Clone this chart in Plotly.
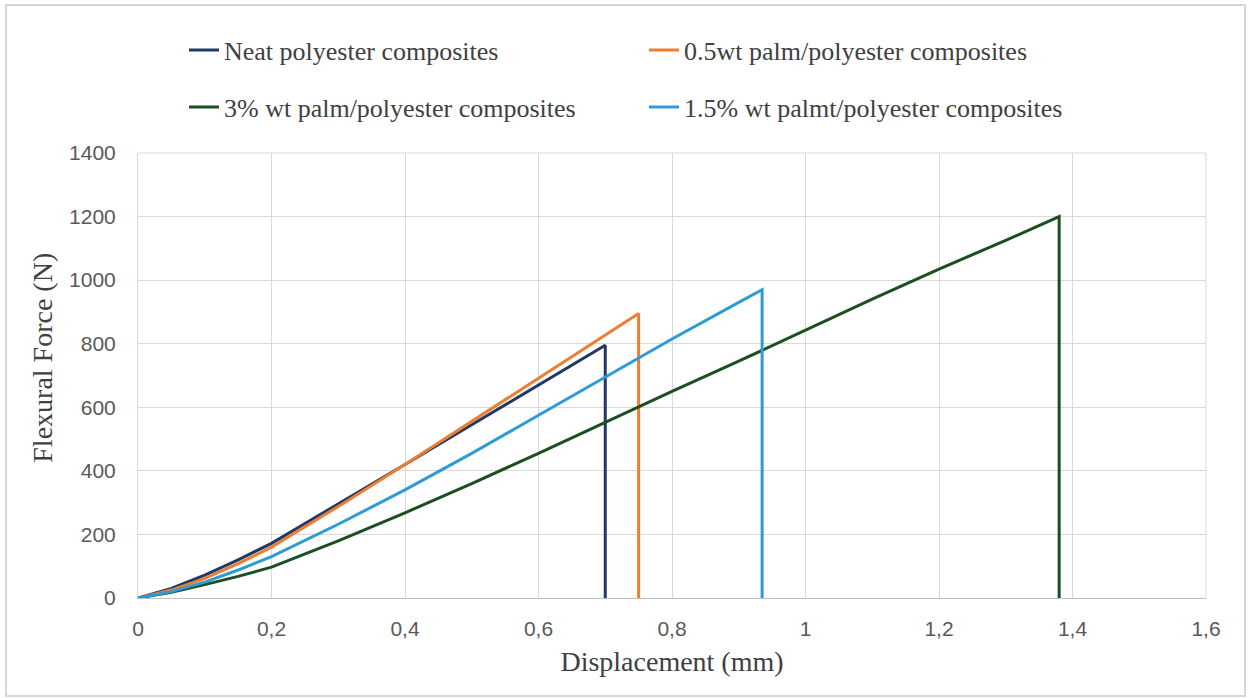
import plotly.graph_objects as go

# displacement (mm) / flexural force (N)
neat_x = [0, 0.05, 0.1, 0.15, 0.2, 0.3, 0.4, 0.5, 0.6, 0.7, 0.7]
neat_y = [0, 30, 72, 120, 172, 295, 420, 545, 670, 795, 0]

half_x = [0, 0.05, 0.1, 0.15, 0.2, 0.3, 0.4, 0.5, 0.6, 0.7, 0.75, 0.75]
half_y = [0, 25, 62, 108, 160, 288, 420, 556, 692, 828, 895, 0]

three_x = [0, 0.05, 0.1, 0.15, 0.2, 0.3, 0.4, 0.5, 0.6, 0.7, 0.8, 0.9, 1.0, 1.1, 1.2, 1.3, 1.38, 1.38]
three_y = [0, 18, 42, 68, 97, 180, 268, 360, 455, 553, 650, 745, 843, 940, 1035, 1125, 1200, 0]

onehalf_x = [0, 0.05, 0.1, 0.15, 0.2, 0.3, 0.4, 0.5, 0.6, 0.7, 0.8, 0.9, 0.935, 0.935]
onehalf_y = [0, 20, 50, 88, 130, 232, 340, 455, 575, 695, 815, 930, 970, 0]

names = ["Neat polyester composites", "0.5wt palm/polyester composites",
         "3% wt palm/polyester composites", "1.5% wt palmt/polyester composites"]
colors = ["#1F3864", "#ED7D31", "#1B4F1F", "#2E9BD6"]

W, H = 1251, 698
serif = "Liberation Serif, Times New Roman, serif"
sans = "Liberation Sans, Arial, sans-serif"

fig = go.Figure()
series = [(neat_x, neat_y), (half_x, half_y), (three_x, three_y), (onehalf_x, onehalf_y)]
legends = ["legend", "legend2", "legend3", "legend4"]
for (xs, ys), name, col, lg in zip(series, names, colors, legends):
    fig.add_trace(go.Scatter(x=xs, y=ys, mode="lines", name=name, legend=lg,
                             line=dict(color=col, width=3)))

def leg(px, py):
    return dict(x=px / W, y=1 - py / H, xref="container", yref="container",
                xanchor="left", yanchor="middle", bgcolor="rgba(0,0,0,0)",
                font=dict(family=serif, size=26, color="#404040"))

gridc = "#D9D9D9"
fig.update_layout(
    width=W, height=H,
    margin=dict(l=138, r=45, t=153, b=100, autoexpand=False),
    paper_bgcolor="white", plot_bgcolor="white",
    separators=",.",
    showlegend=True,
    legend=leg(184, 50), legend2=leg(644, 50),
    legend3=leg(184, 107), legend4=leg(644, 107),
    xaxis=dict(range=[0, 1.6], dtick=0.2, tick0=0, showgrid=True, gridcolor=gridc,
               gridwidth=1, zeroline=False, showline=True, linecolor="#BFBFBF",
               ticks="", tickangle=0, ticklabelstandoff=12,
               tickfont=dict(family=sans, size=21, color="#595959"),
               title=dict(text="Displacement (mm)", standoff=12,
                          font=dict(family=serif, size=28, color="#404040"))),
    yaxis=dict(range=[0, 1400], dtick=200, tick0=0, showgrid=True, gridcolor=gridc,
               gridwidth=1, zeroline=False, showline=True, linecolor=gridc,
               ticks="", ticklabelstandoff=17,
               tickfont=dict(family=sans, size=21, color="#595959")),
    annotations=[
        dict(text="Flexural Force (N)", textangle=-90, showarrow=False,
             xref="paper", yref="paper", x=(43 - 138) / 1068, y=0.54,
             xanchor="center", yanchor="middle",
             font=dict(family=serif, size=28, color="#404040")),
    ],
    shapes=[
        dict(type="line", xref="paper", yref="paper", x0=1, x1=1, y0=0, y1=1,
             line=dict(color=gridc, width=1)),
        dict(type="line", xref="paper", yref="paper", x0=0, x1=1, y0=1, y1=1,
             line=dict(color=gridc, width=1)),
        dict(type="rect", xref="paper", yref="paper",
             x0=(6 - 138) / 1068, x1=(1245 - 138) / 1068,
             y0=(598 - 696) / 445, y1=(598 - 5) / 445,
             line=dict(color="#D6D6D6", width=2)),
    ],
)

# drop the default page margin so the figure sits at the window corner
fig.write_html("out.html", config={"displayModeBar": False},
               post_script="document.body.style.margin='0';")
